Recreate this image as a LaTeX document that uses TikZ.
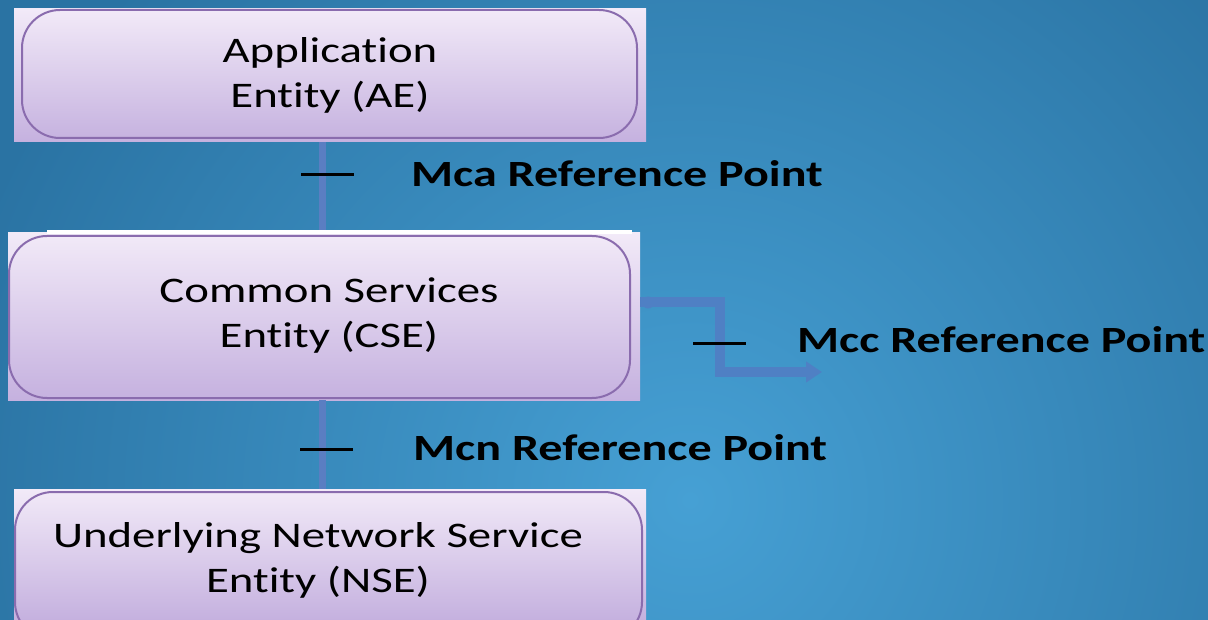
\documentclass[tikz,border=0pt]{standalone}
\usepackage{fontspec}
\setmainfont[FakeStretch=1.3,Ligatures={NoCommon,NoDiscretionary}]{Carlito}
\usetikzlibrary{arrows.meta,calc}

\definecolor{bgdark}{HTML}{2A73A3}
\definecolor{bglight}{HTML}{46A0D4}
\definecolor{boxtop}{HTML}{F2EAF8}
\definecolor{boxbot}{HTML}{C5B1DF}
\definecolor{boxline}{HTML}{8A6CAE}
\definecolor{spinecol}{HTML}{5A7EC2}
\definecolor{mcccol}{HTML}{4F80C4}

\tikzset{
  entitybox/.style={rectangle, inner sep=0pt, top color=boxtop, bottom color=boxbot},
  outline/.style={draw=boxline, line width=2pt, rounded corners=38pt},
  entitytext/.style={align=center, inner sep=0pt,
    font=\fontsize{36}{45}\selectfont, text=black},
  reflabel/.style={inner sep=0pt, anchor=base west,
    font=\fontsize{37}{44}\selectfont\bfseries, text=black},
  spine/.style={draw=spinecol, line width=7pt},
  tickmark/.style={draw=black, line width=3pt},
  mcclink/.style={draw=mcccol, line width=10pt, line join=miter,
    -{Triangle[length=16pt,width=20pt]}}
}

\begin{document}
\begin{tikzpicture}[x=1pt,y=-1pt]
  \useasboundingbox (0,0) rectangle (1208,620);

  % blue backdrop, lighter towards the lower middle
  \begin{scope}
    \clip (0,0) rectangle (1208,620);
    \fill[bgdark] (0,0) rectangle (1208,620);
    \shade[inner color=bglight, outer color=bgdark] (690,500) circle (760);
  \end{scope}

  \coordinate (axis) at (322,0);

  % entity panels
  \node[entitybox, minimum width=632, minimum height=133] (ae)  at (330,75.5) {};
  \node[entitybox, minimum width=632, minimum height=167] (cse) at (324,316.5) {};
  \node[entitybox, minimum width=632, minimum height=131] (nse) at (330,554.5) {};

  % vertical links between the entities
  \draw[spine] (ae.south -| axis) -- (cse.north -| axis);
  \draw[spine] (cse.south -| axis) -- (nse.north -| axis);

  % thin white strip above the CSE panel
  \fill[white] (47,230) rectangle (632,234);

  % rounded outlines inside the entity panels
  \draw[outline] (22,10) rectangle (637,138);
  \draw[outline] (9,236) rectangle (630,398);
  \begin{scope}
    \clip (0,0) rectangle (1208,620);
    \draw[outline] (15,492) rectangle (642,640);
  \end{scope}

  % entity names (anchored on the baseline of the second line)
  \node[entitytext, anchor=base] (aet)  at (330,108) {Application\\Entity (AE)};
  \node[entitytext, anchor=base] (cset) at (329,348) {Common Services\\Entity (CSE)};
  \node[entitytext, anchor=base] (nset) at (318,592) {Underlying Network Service\\Entity (NSE)};

  % reference point labels
  \node[reflabel] (mca) at (411,187) {Mca Reference Point};
  \node[reflabel] (mcc) at (797,353) {Mcc Reference Point};
  \node[reflabel] (mcn) at (413,460) {Mcn Reference Point};

  % Mcc link leaving the CSE to the right
  \coordinate (mccend) at (822,372);
  \fill[mcccol] ([yshift=14pt,xshift=8pt]cse.east) circle (6pt);
  \draw[mcclink] ([yshift=14pt]cse.east) -- ++(80,0) |- (mccend);

  % short marks in front of the labels
  \draw[tickmark] ($(mca.west)+(-110,0)$) -- ++(53,0);
  \draw[tickmark] ($(mcc.west)+(-104,3)$) -- ++(53,0);
  \draw[tickmark] ($(mcn.west)+(-113,2)$) -- ++(53,0);
\end{tikzpicture}
\end{document}
